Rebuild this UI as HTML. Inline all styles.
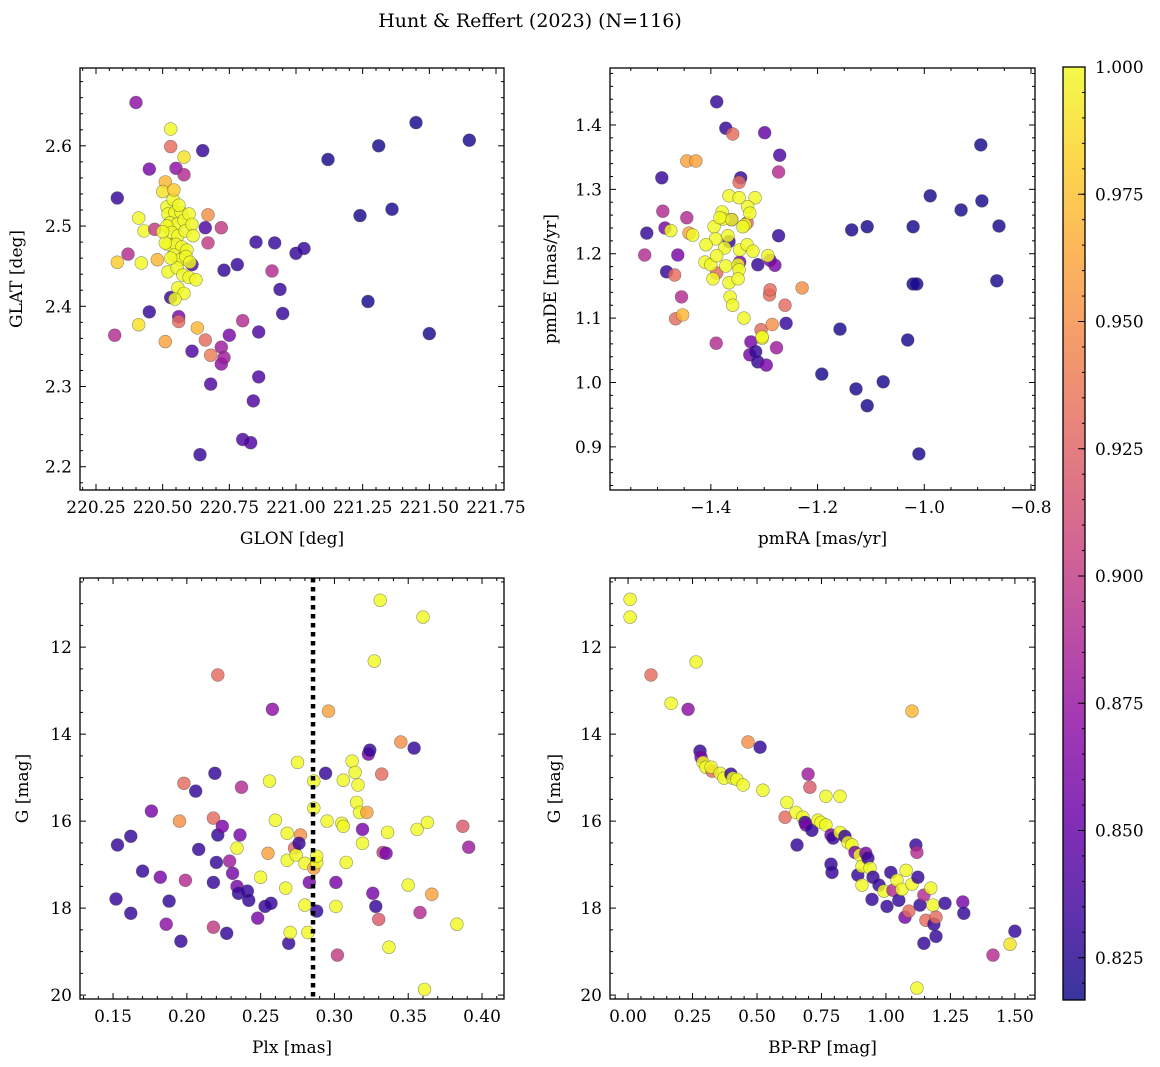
<!DOCTYPE html>
<html><head><meta charset="utf-8"><style>
html,body{margin:0;padding:0;background:#fff;width:1160px;height:1067px;overflow:hidden}
svg{display:block;font-family:"DejaVu Serif","Liberation Serif",serif}
</style></head><body>
<svg id="fig" width="1160" height="1067" viewBox="0 0 1160 1067">
<defs>
<linearGradient id="cbgrad" x1="0" y1="1" x2="0" y2="0">
<stop offset="0" stop-color="#0d0887"/><stop offset="0.1" stop-color="#41049d"/><stop offset="0.2" stop-color="#6a00a8"/><stop offset="0.3" stop-color="#8f0da4"/><stop offset="0.4" stop-color="#b12a90"/><stop offset="0.5" stop-color="#cc4778"/><stop offset="0.6" stop-color="#e16462"/><stop offset="0.7" stop-color="#f2844b"/><stop offset="0.8" stop-color="#fca636"/><stop offset="0.9" stop-color="#fcce25"/><stop offset="1" stop-color="#f0f921"/>
</linearGradient>
</defs>
<text x="530" y="27" font-size="19" text-anchor="middle">Hunt &amp; Reffert (2023) (N=116)</text>
</svg>
<script>
// ---------- data ----------
const glon = [220.40,220.33,220.45,220.53,220.53,220.58,220.65,220.55,220.58,220.51,220.50,220.41,220.43,220.47,220.67,220.66,220.72,220.67,220.37,220.33,220.42,220.48,220.61,220.73,220.78,220.91,220.85,220.92,221.00,221.03,220.94,220.95,220.45,220.53,220.56,220.56,220.63,220.66,220.68,220.61,220.72,220.75,220.72,220.73,220.80,220.86,220.68,220.86,220.84,220.80,220.83,220.64,220.51,220.41,220.32,221.12,221.31,221.45,221.65,221.24,221.36,221.27,221.50,
220.516,220.539,220.52,220.546,220.569,220.527,220.557,220.58,220.599,220.516,220.535,220.557,220.584,220.61,220.52,220.55,220.572,220.591,220.542,220.565,220.587,220.602,220.52,220.554,220.576,220.599,220.557,220.58,220.625,220.546,220.51,220.53,220.50,220.561,220.542,220.614];
const glat = [2.654,2.535,2.571,2.621,2.599,2.586,2.594,2.572,2.564,2.555,2.543,2.510,2.494,2.496,2.514,2.498,2.498,2.479,2.465,2.455,2.454,2.458,2.452,2.445,2.452,2.444,2.480,2.479,2.466,2.472,2.421,2.391,2.393,2.411,2.387,2.381,2.373,2.358,2.339,2.344,2.349,2.364,2.328,2.336,2.382,2.368,2.303,2.312,2.282,2.234,2.230,2.215,2.356,2.377,2.364,2.583,2.600,2.629,2.607,2.513,2.521,2.406,2.366,
2.524,2.533,2.515,2.517,2.517,2.504,2.503,2.507,2.515,2.500,2.492,2.488,2.494,2.502,2.477,2.477,2.474,2.470,2.464,2.458,2.462,2.455,2.443,2.448,2.439,2.436,2.423,2.416,2.433,2.409,2.479,2.460,2.493,2.526,2.545,2.488];
const prob1 = [0.87,0.83,0.86,1.0,0.93,0.99,0.83,0.87,0.89,0.97,0.99,1.0,1.0,0.90,0.95,0.84,0.90,0.90,0.89,0.98,1.0,0.97,0.84,0.83,0.83,0.89,0.83,0.83,0.83,0.83,0.83,0.83,0.83,0.83,0.86,0.93,0.97,0.93,0.94,0.84,0.88,0.86,0.87,0.88,0.89,0.84,0.84,0.84,0.84,0.84,0.84,0.83,0.96,0.99,0.89,0.82,0.82,0.82,0.82,0.82,0.82,0.82,0.82,
1,1,1,1,1,1,1,1,1,1,1,1,1,1,1,1,1,1,1,1,1,1,1,1,1,1,1,1,1,1,1,1,1,1,0.98,1];

const pmra = [-1.389,-1.372,-1.359,-1.299,-1.271,-1.273,-1.445,-1.428,-1.492,-1.344,-1.347,-1.490,-1.445,-1.520,-1.486,-1.524,-1.462,-1.483,-1.468,-1.455,-1.466,-1.453,-1.441,-1.434,-1.475,-1.273,-1.312,-1.289,-1.28,-1.29,-1.289,-1.229,-1.261,-1.39,-1.325,-1.327,-1.316,-1.306,-1.304,-1.285,-1.259,-1.277,-1.312,-1.296,-1.136,-1.107,-1.021,-0.989,-0.931,-0.892,-0.894,-0.86,-0.864,-1.021,-1.014,-1.158,-1.192,-1.128,-1.107,-1.077,-1.031,-1.010,-1.389,-1.366,-1.332,-1.361,-1.346,
-1.366,-1.347,-1.317,-1.331,-1.327,-1.379,-1.377,-1.361,-1.336,-1.394,-1.368,-1.391,-1.409,-1.374,-1.346,-1.332,-1.321,-1.293,-1.411,-1.400,-1.389,-1.372,-1.349,-1.347,-1.366,-1.349,-1.396,-1.364,-1.359,-1.338,-1.304,-1.383,-1.340];
const pmde = [1.436,1.395,1.386,1.388,1.353,1.327,1.344,1.344,1.318,1.318,1.311,1.266,1.256,1.232,1.240,1.198,1.198,1.172,1.167,1.133,1.099,1.105,1.232,1.229,1.236,1.228,1.183,1.190,1.182,1.136,1.144,1.147,1.120,1.061,1.063,1.043,1.048,1.082,1.069,1.090,1.092,1.054,1.032,1.027,1.237,1.242,1.242,1.290,1.268,1.282,1.369,1.243,1.158,1.153,1.153,1.083,1.013,0.990,0.964,1.001,1.066,0.889,1.170,1.219,1.248,1.253,1.187,
1.290,1.287,1.287,1.273,1.263,1.265,1.254,1.253,1.245,1.242,1.228,1.223,1.214,1.209,1.206,1.214,1.204,1.197,1.187,1.183,1.197,1.181,1.183,1.175,1.155,1.161,1.161,1.133,1.120,1.100,1.071,1.256,1.242];
const prob2 = [0.83,0.83,0.93,0.85,0.84,0.89,0.96,0.96,0.83,0.83,0.93,0.89,0.89,0.83,0.86,0.89,0.86,0.83,0.93,0.89,0.93,0.97,0.96,1.0,1.0,0.83,0.83,0.86,0.86,0.93,0.93,0.95,0.93,0.89,0.86,0.86,0.83,0.93,1.0,0.95,0.83,0.88,0.83,0.86,0.82,0.82,0.82,0.82,0.82,0.82,0.82,0.82,0.82,0.82,0.82,0.82,0.82,0.82,0.82,0.82,0.82,0.82,0.93,0.83,0.93,0.86,0.86,
1,1,1,1,1,1,1,1,1,1,1,1,1,1,1,1,1,1,1,1,1,1,1,1,1,1,1,1,1,1,1,1,1];

const plx = [0.153,0.162,0.152,0.162,0.170,0.176,0.182,0.188,0.186,0.196,0.198,0.195,0.199,0.206,0.208,0.219,0.220,0.218,0.218,0.218,0.221,0.224,0.227,0.229,0.231,0.234,0.234,0.235,0.236,0.237,0.241,0.242,0.248,0.250,0.253,0.257,0.255,0.256,0.260,0.268,0.267,0.268,0.269,0.270,0.273,0.274,0.275,0.277,0.276,0.280,0.280,0.282,0.283,0.286,0.288,0.286,0.286,0.288,0.288,0.294,0.295,0.301,0.301,0.302,0.305,0.306,0.306,0.308,0.312,0.314,0.315,0.316,0.317,0.319,0.319,0.322,0.323,0.324,0.326,0.328,0.330,0.332,0.333,0.335,0.336,0.337,0.350,0.356,0.358,0.361,0.363,0.366,0.383,0.387,0.391,0.331,0.360,0.221,0.327,0.258,0.296,0.354,0.345];
const gmag3 = [16.55,16.35,17.79,18.12,17.15,15.77,17.29,17.84,18.37,18.76,15.13,16.00,17.36,15.31,16.65,14.90,16.95,17.41,18.44,15.93,16.32,16.12,18.58,16.92,17.20,17.50,16.62,17.66,16.32,15.22,17.61,17.82,18.23,17.29,17.96,17.89,16.74,15.08,15.98,16.90,17.54,16.28,18.81,18.56,16.62,16.78,14.65,16.32,16.51,16.97,17.93,18.56,17.41,17.08,16.95,15.08,15.70,16.81,18.07,14.90,16.00,17.96,17.41,19.08,16.05,15.06,16.12,16.95,14.62,14.88,15.57,15.17,15.80,16.19,16.51,15.80,14.46,14.37,17.66,17.96,18.26,14.92,16.72,16.74,16.26,18.90,17.47,16.19,18.10,19.87,16.03,17.68,18.37,16.12,16.60,10.92,11.31,12.64,12.32,13.43,13.47,14.32,14.18];
const prob3 = [0.83,0.83,0.83,0.83,0.83,0.86,0.86,0.83,0.87,0.83,0.93,0.95,0.89,0.83,0.83,0.83,0.83,0.83,0.90,0.93,0.83,0.86,0.83,0.88,0.86,0.86,1,0.83,0.86,0.89,0.83,0.83,0.86,1,0.83,0.83,0.96,1,1,1,1,1,0.83,1,0.93,1,1,0.95,0.83,1,1,1,0.86,0.96,1,1,1,1,0.83,0.83,1,1,0.86,0.90,1,1,1,1,1,1,1,1,1,0.86,1,0.96,0.86,0.83,0.86,0.83,0.92,0.93,0.90,0.86,1,1,1,1,0.89,1,1,0.96,1,0.92,0.88,1,1,0.93,1,0.87,0.96,0.83,0.95];
const plxCut = [0.2855];

const bprp = [0.279,0.283,0.291,0.302,0.326,0.322,0.357,0.372,0.399,0.407,0.422,0.446,0.465,0.512,0.523,0.616,0.609,0.651,0.678,0.686,0.698,0.705,0.655,0.690,0.713,0.736,0.748,0.767,0.767,0.787,0.795,0.822,0.787,0.791,0.822,0.841,0.853,0.868,0.880,0.899,0.891,0.907,0.907,0.922,0.930,0.938,0.950,0.946,0.973,0.992,1.004,1.019,1.027,1.043,1.050,1.062,1.074,1.078,1.089,1.101,1.116,1.120,1.124,1.132,1.147,1.147,1.155,1.174,1.182,1.186,1.194,1.194,1.120,1.101,1.298,1.302,1.481,1.415,1.500,1.229,0.008,0.008,0.089,0.167,0.233,0.264];
const gmag4 = [14.39,14.53,14.65,14.76,14.85,14.76,14.90,15.01,14.92,15.01,15.04,15.17,14.18,14.30,15.29,15.57,15.91,15.80,15.91,16.03,14.92,15.22,16.55,16.09,16.21,15.98,16.03,15.43,16.09,16.32,16.39,15.43,16.99,17.18,16.26,16.35,16.49,16.55,16.72,16.78,17.24,17.47,17.04,16.74,16.85,17.08,17.29,17.80,17.47,17.61,17.96,17.18,17.59,17.36,17.82,17.57,18.21,17.13,18.07,17.45,16.55,16.72,17.29,17.93,18.81,17.70,18.28,17.54,17.93,18.37,18.21,18.65,19.84,13.47,17.86,18.12,18.83,19.08,18.53,17.89,10.90,11.31,12.64,13.29,13.43,12.34];
const prob4 = [0.83,0.86,1,1,0.93,1,1,1,0.83,1,1,1,0.95,0.83,1,1,0.93,1,1,0.83,0.88,0.92,0.83,0.86,0.83,1,1,1,1,0.86,0.83,1,0.83,0.83,1,0.83,1,1,0.86,1,0.83,1,1,0.86,0.83,1,0.83,0.83,0.83,1,0.83,0.83,0.89,1,0.83,1,0.86,1,0.93,1,0.83,0.89,0.83,0.83,0.83,0.89,0.93,1,1,0.83,0.93,0.83,1,0.97,0.86,0.83,0.99,0.89,0.83,0.83,1,1,0.93,1,0.87,1];

const cbTicks = [0.825,0.850,0.875,0.900,0.925,0.950,0.975,1.000];

// ---------- helpers ----------
const NS = "http://www.w3.org/2000/svg";
const svg = document.getElementById("fig");
const VMIN = 0.8167, VMAX = 1.0;
const stops = ["#0d0887","#41049d","#6a00a8","#8f0da4","#b12a90","#cc4778","#e16462","#f2844b","#fca636","#fcce25","#f0f921"].map(h=>[parseInt(h.slice(1,3),16),parseInt(h.slice(3,5),16),parseInt(h.slice(5,7),16)]);
function cmap(v){
  let t=(v-VMIN)/(VMAX-VMIN); t=Math.max(0,Math.min(1,t));
  const f=t*10, i=Math.min(9,Math.floor(f)), r=f-i;
  const a=stops[i], b=stops[i+1];
  return "rgb("+a.map((c,k)=>Math.round(c+(b[k]-c)*r)).join(",")+")";
}
function mk(tag, attrs, parent){
  const e=document.createElementNS(NS,tag);
  for(const k in attrs) e.setAttribute(k,attrs[k]);
  (parent||svg).appendChild(e); return e;
}
function fmt(v,d){ let s=v.toFixed(d); return s.startsWith("-")?"\u2212"+s.slice(1):s; }

function panel(cfg){
  const g=mk("g",{});
  
  
  const {x0,x1,y0,y1,xmin,xmax,ymin,ymax,inv}=cfg;
  const sx=v=>x0+(v-xmin)/(xmax-xmin)*(x1-x0);
  const sy=v=> inv ? y0+(v-ymin)/(ymax-ymin)*(y1-y0) : y1-(v-ymin)/(ymax-ymin)*(y1-y0);
  const pts=mk("g",{},g);
  
  
  for(let i=0;i<cfg.xs.length;i++){
    const c=mk("circle",{cx:sx(cfg.xs[i]).toFixed(1),cy:sy(cfg.ys[i]).toFixed(1),r:6.4,fill:cmap(cfg.cs[i]),"fill-opacity":0.82,stroke:"#444","stroke-opacity":0.55,"stroke-width":0.6},pts);
    
    
  }
  if(cfg.vline){
    for(const v of cfg.vline){
      const l=mk("line",{x1:sx(v),x2:sx(v),y1:y0,y2:y1,stroke:"#000","stroke-width":4.5,"stroke-dasharray":"4.5 4.5"},g);
      
      
    }
  }
  const fr=mk("rect",{x:x0,y:y0,width:x1-x0,height:y1-y0,fill:"none",stroke:"#000","stroke-width":1.3},g);
  
  
  const tk=mk("g",{stroke:"#000","stroke-width":1},g);
  const eps=1e-9;
  for(let v=Math.ceil(xmin/cfg.xminor-eps)*cfg.xminor; v<=xmax+eps; v+=cfg.xminor){
    const X=sx(v); const maj=Math.abs(v/cfg.xmajor-Math.round(v/cfg.xmajor))<1e-4; const L=maj?6:3;
    mk("line",{x1:X,x2:X,y1:y1,y2:y1-L},tk); mk("line",{x1:X,x2:X,y1:y0,y2:y0+L},tk);
    if(maj){ const t=mk("text",{x:X,y:y1+23,"font-size":17,"text-anchor":"middle",stroke:"none"},g); t.textContent=fmt(v,cfg.xdec);
        }
  }
  for(let v=Math.ceil(ymin/cfg.yminor-eps)*cfg.yminor; v<=ymax+eps; v+=cfg.yminor){
    const Y=sy(v); const maj=Math.abs(v/cfg.ymajor-Math.round(v/cfg.ymajor))<1e-4; const L=maj?6:3;
    mk("line",{x1:x0,x2:x0+L,y1:Y,y2:Y},tk); mk("line",{x1:x1,x2:x1-L,y1:Y,y2:Y},tk);
    if(maj){ const t=mk("text",{x:x0-8,y:Y+6,"font-size":17,"text-anchor":"end",stroke:"none"},g); t.textContent=fmt(v,cfg.ydec);
        }
  }
  const xl=mk("text",{x:(x0+x1)/2,y:y1+54,"font-size":17,"text-anchor":"middle"},g); xl.textContent=cfg.xlabel;
   
  const yx=cfg.ylabx, yy=(y0+y1)/2;
  const yl=mk("text",{x:yx,y:yy,"font-size":17,"text-anchor":"middle",transform:`rotate(-90 ${yx} ${yy})`},g); yl.textContent=cfg.ylabel;
   
}

panel({name:"glon-glat-panel",x0:80,x1:504,y0:68,y1:490,xmin:220.19,xmax:221.78,ymin:2.171,ymax:2.697,xmajor:0.25,xminor:0.05,ymajor:0.1,yminor:0.02,xdec:2,ydec:1,xs:glon,ys:glat,cs:prob1,xlabel:"GLON [deg]",ylabel:"GLAT [deg]",ylabx:22});
panel({name:"pm-panel",x0:610,x1:1035,y0:68,y1:490,xmin:-1.589,xmax:-0.7925,ymin:0.833,ymax:1.4885,xmajor:0.2,xminor:0.05,ymajor:0.1,yminor:0.02,xdec:1,ydec:1,xs:pmra,ys:pmde,cs:prob2,xlabel:"pmRA [mas/yr]",ylabel:"pmDE [mas/yr]",ylabx:556});
panel({name:"plx-g-panel",x0:80,x1:504,y0:578,y1:999,xmin:0.1276,xmax:0.4149,ymin:10.41,ymax:20.09,inv:true,xmajor:0.05,xminor:0.01,ymajor:2,yminor:0.5,xdec:2,ydec:0,xs:plx,ys:gmag3,cs:prob3,vline:plxCut,xlabel:"Plx [mas]",ylabel:"G [mag]",ylabx:28});
panel({name:"cmd-panel",x0:610,x1:1035,y0:578,y1:999,xmin:-0.070,xmax:1.578,ymin:10.41,ymax:20.09,inv:true,xmajor:0.25,xminor:0.05,ymajor:2,yminor:0.5,xdec:2,ydec:0,xs:bprp,ys:gmag4,cs:prob4,xlabel:"BP-RP [mag]",ylabel:"G [mag]",ylabx:560});

const cb=mk("g",{});


const CX0=1063,CX1=1085,CY0=67,CY1=1000;
const cy=v=>CY1-(v-VMIN)/(VMAX-VMIN)*(CY1-CY0);
mk("rect",{x:CX0,y:CY0,width:CX1-CX0,height:CY1-CY0,fill:"url(#cbgrad)","fill-opacity":0.82},cb);
mk("rect",{x:CX0,y:CY0,width:CX1-CX0,height:CY1-CY0,fill:"none",stroke:"#000","stroke-width":1.3},cb);
for(let k=0;k<=37;k++){ const v=0.82+k*0.005; if(v<VMIN||v>VMAX+1e-9) continue; const Y=cy(v);
  mk("line",{x1:CX1,x2:CX1-3,y1:Y,y2:Y,stroke:"#000","stroke-width":1},cb); }
for(const v of cbTicks){ const Y=cy(v);
  mk("line",{x1:CX1,x2:CX1-7,y1:Y,y2:Y,stroke:"#000","stroke-width":1},cb);
  const t=mk("text",{x:CX1+10,y:Y+6,"font-size":17},cb); t.textContent=v.toFixed(3);
    }
</script>
</body></html>
